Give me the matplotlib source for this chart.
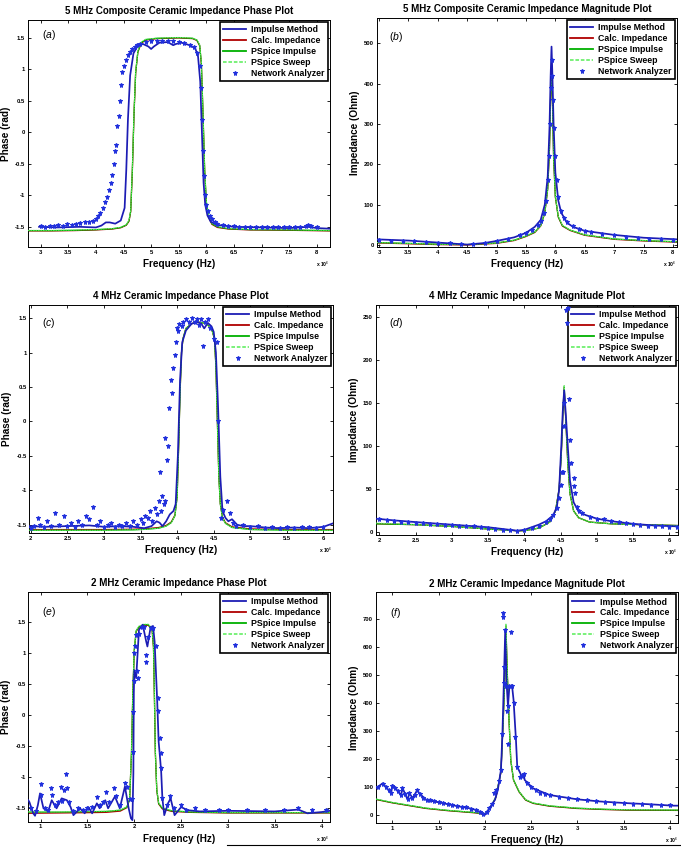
import matplotlib
matplotlib.use('Agg')
import matplotlib.pyplot as plt
from matplotlib.ticker import FuncFormatter, FixedLocator
from matplotlib.lines import Line2D

plt.rcParams['font.family'] = ['Liberation Sans', 'DejaVu Sans']
plt.rcParams['mathtext.fontset'] = 'custom'
plt.rcParams['mathtext.rm'] = 'Liberation Sans'
plt.rcParams['mathtext.it'] = 'Liberation Sans:italic'
plt.rcParams['mathtext.bf'] = 'Liberation Sans:bold'

# ---------------- DATA (frequency in MHz) ----------------
series_names = ["Impulse Method", "Calc. Impedance", "PSpice Impulse",
                "PSpice Sweep", "Network Analyzer"]

# (a) 5 MHz composite phase
a_mf = [2.77, 3.2, 3.6, 4.0, 4.3, 4.45, 4.55, 4.6, 4.63, 4.66, 4.69, 4.72, 4.76, 4.82, 4.9,
        5.1, 5.5, 5.75, 5.83, 5.88, 5.91, 5.94, 5.97, 6.0, 6.04, 6.1, 6.2, 6.4, 6.8, 7.5, 8.24]
a_psp = [-1.56, -1.56, -1.555, -1.545, -1.53, -1.51, -1.47, -1.40, -1.25, -0.60, 0.30, 0.95, 1.28,
         1.42, 1.47, 1.49, 1.50, 1.49, 1.46, 1.38, 1.10, 0.30, -0.60, -1.10, -1.33, -1.45, -1.50,
         -1.53, -1.545, -1.55, -1.56]
a_calc = [-1.565, -1.565, -1.56, -1.55, -1.535, -1.515, -1.475, -1.41, -1.26, -0.62, 0.28, 0.94,
          1.27, 1.41, 1.46, 1.485, 1.495, 1.485, 1.455, 1.37, 1.08, 0.28, -0.62, -1.12, -1.34,
          -1.46, -1.51, -1.535, -1.55, -1.555, -1.565]
a_swp = [-1.555, -1.555, -1.55, -1.54, -1.525, -1.505, -1.465, -1.39, -1.24, -0.58, 0.32, 0.96,
         1.29, 1.43, 1.475, 1.495, 1.505, 1.495, 1.465, 1.385, 1.11, 0.32, -0.58, -1.09, -1.32,
         -1.44, -1.495, -1.525, -1.54, -1.545, -1.555]
a_imp = [(2.97, -1.50), (3.3, -1.51), (3.7, -1.50), (4.0, -1.51), (4.1, -1.48), (4.18, -1.43),
         (4.25, -1.43), (4.35, -1.45), (4.45, -1.40), (4.52, -1.2), (4.55, -0.6), (4.58, 0.2),
         (4.62, 0.9), (4.68, 1.25), (4.75, 1.36), (4.85, 1.40), (4.95, 1.36), (5.0, 1.32),
         (5.05, 1.36), (5.15, 1.42), (5.3, 1.43), (5.4, 1.38), (5.45, 1.40), (5.55, 1.42),
         (5.7, 1.38), (5.8, 1.33), (5.85, 1.2), (5.89, 0.8), (5.92, 0.0), (5.95, -0.8),
         (5.98, -1.15), (6.02, -1.32), (6.08, -1.42), (6.2, -1.47), (6.5, -1.50), (7.0, -1.51),
         (7.5, -1.52), (7.85, -1.50), (8.0, -1.52), (8.24, -1.53)]
a_na = [(3.0, -1.49), (3.08, -1.50), (3.16, -1.48), (3.24, -1.49), (3.32, -1.47), (3.4, -1.48),
        (3.48, -1.46), (3.56, -1.47), (3.64, -1.45), (3.72, -1.44), (3.8, -1.43), (3.88, -1.42),
        (3.95, -1.40), (4.0, -1.38), (4.04, -1.33), (4.08, -1.28), (4.12, -1.20), (4.16, -1.10),
        (4.2, -1.02), (4.24, -0.92), (4.27, -0.80), (4.3, -0.68), (4.33, -0.50), (4.35, -0.30),
        (4.37, -0.20), (4.39, 0.10), (4.41, 0.25), (4.43, 0.50), (4.45, 0.75), (4.48, 0.95),
        (4.51, 1.05), (4.54, 1.15), (4.58, 1.22), (4.62, 1.28), (4.66, 1.32), (4.7, 1.35),
        (4.75, 1.38), (4.8, 1.40), (4.9, 1.43), (5.0, 1.44), (5.1, 1.45), (5.2, 1.45),
        (5.3, 1.45), (5.4, 1.44), (5.5, 1.43), (5.6, 1.41), (5.7, 1.38), (5.78, 1.35),
        (5.84, 1.25), (5.88, 1.05), (5.9, 0.70), (5.92, 0.20), (5.94, -0.30), (5.96, -0.70),
        (5.98, -1.00), (6.0, -1.15), (6.03, -1.25), (6.06, -1.33), (6.1, -1.38), (6.15, -1.42),
        (6.2, -1.45), (6.3, -1.47), (6.4, -1.48), (6.5, -1.49), (6.6, -1.50), (6.7, -1.50),
        (6.8, -1.50), (6.9, -1.51), (7.0, -1.50), (7.1, -1.51), (7.2, -1.50), (7.3, -1.51),
        (7.4, -1.50), (7.5, -1.50), (7.6, -1.51), (7.7, -1.50), (7.8, -1.49), (7.85, -1.47),
        (7.9, -1.49), (8.0, -1.50)]

# (b) 5 MHz composite magnitude
b_mf = [2.96, 3.5, 4.0, 4.5, 5.0, 5.3, 5.5, 5.65, 5.75, 5.82, 5.87, 5.9, 5.92, 5.935, 5.95,
        5.97, 6.0, 6.05, 6.12, 6.25, 6.5, 7.0, 7.5, 8.07]
b_psp = [6, 4, 2, 1, 5, 12, 22, 32, 48, 80, 140, 240, 370, 446, 370, 220, 120, 70, 48, 37, 25,
         15, 11, 8]
b_calc = [5, 3, 1, 0, 4, 11, 21, 31, 47, 79, 139, 238, 366, 440, 366, 218, 119, 69, 47, 36, 24,
          14, 10, 7]
b_swp = [6, 4, 2, 1, 5, 12, 22, 32, 48, 80, 140, 240, 372, 448, 372, 221, 121, 71, 49, 37, 25,
         15, 11, 8]
b_imp = [(2.96, 14), (3.5, 11), (4.0, 6), (4.5, 1), (4.8, 5), (5.0, 10), (5.3, 19), (5.5, 30),
         (5.65, 45), (5.75, 62), (5.82, 100), (5.87, 170), (5.9, 290), (5.92, 420), (5.935, 492),
         (5.95, 420), (5.97, 300), (6.0, 180), (6.05, 110), (6.1, 80), (6.2, 55), (6.3, 45),
         (6.5, 35), (7.0, 25), (7.5, 18), (8.07, 14)]
b_na = [(3.0, 12), (3.2, 11), (3.4, 10), (3.6, 9), (3.8, 7), (4.0, 6), (4.2, 4), (4.4, 2),
        (4.6, 2), (4.8, 5), (5.0, 9), (5.2, 15), (5.4, 24), (5.5, 30), (5.6, 38), (5.7, 50),
        (5.75, 60), (5.8, 80), (5.84, 110), (5.87, 160), (5.89, 220), (5.91, 300), (5.925, 390),
        (5.935, 460), (5.945, 420), (5.955, 360), (5.97, 290), (5.99, 220), (6.02, 160),
        (6.05, 120), (6.1, 85), (6.15, 68), (6.2, 57), (6.3, 47), (6.4, 40), (6.5, 35),
        (6.6, 31), (6.8, 27), (7.0, 24), (7.2, 21), (7.4, 18), (7.6, 16), (7.8, 14), (8.0, 12)]

# (c) 4 MHz phase
c_mf = [1.98, 2.5, 3.0, 3.4, 3.6, 3.75, 3.85, 3.92, 3.97, 4.0, 4.02, 4.04, 4.06, 4.08, 4.12,
        4.2, 4.3, 4.4, 4.47, 4.51, 4.53, 4.55, 4.57, 4.59, 4.62, 4.66, 4.75, 5.0, 5.5, 6.13]
c_psp = [-1.58, -1.58, -1.58, -1.575, -1.565, -1.55, -1.52, -1.47, -1.37, -1.1, -0.4, 0.4, 1.0,
         1.2, 1.35, 1.42, 1.44, 1.42, 1.35, 1.2, 0.8, 0.0, -0.8, -1.2, -1.4, -1.48, -1.54,
         -1.57, -1.58, -1.58]
c_calc = [-1.57, -1.57, -1.57, -1.565, -1.555, -1.54, -1.51, -1.46, -1.36, -1.09, -0.39, 0.41,
          1.0, 1.2, 1.35, 1.42, 1.44, 1.42, 1.35, 1.2, 0.8, 0.0, -0.79, -1.19, -1.39, -1.47,
          -1.53, -1.56, -1.57, -1.57]
c_swp = [-1.58, -1.58, -1.58, -1.575, -1.565, -1.55, -1.52, -1.47, -1.37, -1.1, -0.4, 0.4, 1.0,
         1.2, 1.35, 1.42, 1.44, 1.42, 1.35, 1.2, 0.8, 0.0, -0.8, -1.2, -1.4, -1.48, -1.54,
         -1.57, -1.58, -1.58]
c_imp = [(1.98, -1.52), (2.2, -1.53), (2.5, -1.52), (2.8, -1.51), (3.0, -1.53), (3.2, -1.52),
         (3.4, -1.53), (3.55, -1.55), (3.65, -1.52), (3.72, -1.45), (3.76, -1.47), (3.8, -1.52),
         (3.85, -1.45), (3.9, -1.35), (3.95, -1.30), (3.98, -1.20), (4.01, -0.5), (4.04, 0.6),
         (4.07, 1.15), (4.12, 1.32), (4.2, 1.42), (4.28, 1.44), (4.33, 1.42), (4.37, 1.35),
         (4.42, 1.43), (4.47, 1.38), (4.5, 1.30), (4.53, 1.0), (4.56, 0.2), (4.59, -0.8),
         (4.62, -1.3), (4.66, -1.40), (4.7, -1.45), (4.75, -1.42), (4.82, -1.50), (4.9, -1.52),
         (5.0, -1.52), (5.2, -1.54), (5.4, -1.55), (5.6, -1.54), (5.8, -1.55), (6.0, -1.53),
         (6.13, -1.48)]
c_na = [(2.0, -1.55), (2.05, -1.52), (2.1, -1.40), (2.12, -1.50), (2.18, -1.53), (2.22, -1.45),
        (2.28, -1.52), (2.33, -1.33), (2.38, -1.50), (2.45, -1.37), (2.5, -1.52), (2.55, -1.48),
        (2.6, -1.53), (2.65, -1.45), (2.7, -1.50), (2.75, -1.38), (2.8, -1.42), (2.85, -1.24),
        (2.9, -1.50), (2.95, -1.45), (3.0, -1.53), (3.05, -1.50), (3.1, -1.48), (3.15, -1.53),
        (3.2, -1.50), (3.25, -1.52), (3.3, -1.47), (3.35, -1.52), (3.4, -1.45), (3.45, -1.50),
        (3.5, -1.42), (3.53, -1.48), (3.56, -1.38), (3.6, -1.40), (3.63, -1.30), (3.66, -1.45),
        (3.7, -1.25), (3.72, -1.35), (3.75, -1.15), (3.78, -1.30), (3.8, -1.08), (3.82, -1.20),
        (3.84, -1.15), (3.77, -0.73), (3.834, -0.24), (3.857, -0.56), (3.88, -0.36),
        (3.89, 0.19), (3.91, 0.60), (3.925, 0.41), (3.94, 0.77), (3.97, 0.97), (3.985, 1.16),
        (4.0, 1.35), (4.015, 1.31), (4.03, 1.42), (4.06, 1.38), (4.085, 1.45), (4.12, 1.48),
        (4.16, 1.44), (4.2, 1.50), (4.24, 1.45), (4.27, 1.48), (4.3, 1.40), (4.33, 1.49),
        (4.36, 1.10), (4.38, 1.45), (4.42, 1.48), (4.45, 1.35), (4.5, 1.20), (4.54, 1.16),
        (4.56, 0.0), (4.6, -1.40), (4.63, -1.28), (4.68, -1.16), (4.72, -1.33), (4.76, -1.48),
        (4.8, -1.52), (4.9, -1.50), (5.0, -1.53), (5.1, -1.52), (5.2, -1.55), (5.3, -1.53),
        (5.4, -1.55), (5.5, -1.54), (5.6, -1.55), (5.7, -1.53), (5.8, -1.54), (5.9, -1.55),
        (6.0, -1.53)]

# (d) 4 MHz magnitude
d_mf = [1.95, 2.5, 3.0, 3.5, 3.9, 4.0, 4.2, 4.35, 4.43, 4.48, 4.51, 4.53, 4.55, 4.57, 4.6,
        4.63, 4.68, 4.75, 4.9, 5.2, 5.6, 6.12]
d_psp = [10, 9, 7, 4, 2, 2, 5, 12, 25, 50, 90, 135, 170, 135, 80, 45, 25, 17, 12, 10, 9, 8]
d_calc = [10, 9, 7, 4, 2, 2, 5, 12, 25, 50, 90, 134, 168, 134, 80, 45, 25, 17, 12, 10, 9, 8]
d_swp = [11, 9, 7, 4, 2, 2, 5, 12, 25, 50, 90, 135, 171, 135, 80, 45, 25, 17, 12, 10, 9, 8]
d_imp = [(1.95, 16), (2.2, 14), (2.5, 12), (3.0, 9), (3.5, 6), (3.9, 2), (4.0, 3), (4.1, 6),
         (4.2, 9), (4.3, 13), (4.4, 20), (4.45, 30), (4.48, 50), (4.51, 100), (4.53, 140),
         (4.55, 165), (4.57, 140), (4.6, 100), (4.63, 60), (4.68, 35), (4.75, 24), (4.85, 20),
         (5.0, 16), (5.2, 13), (5.5, 10), (5.8, 8), (6.12, 7)]
d_na = [(2.0, 15), (2.1, 14), (2.2, 13), (2.3, 12), (2.4, 12), (2.5, 11), (2.6, 11), (2.7, 10),
        (2.8, 10), (2.9, 9), (3.0, 9), (3.1, 8), (3.2, 8), (3.3, 7), (3.4, 6), (3.5, 5),
        (3.6, 4), (3.7, 3), (3.8, 3), (3.9, 2), (4.0, 3), (4.1, 5), (4.2, 8), (4.3, 12),
        (4.35, 15), (4.4, 20), (4.45, 28), (4.48, 40), (4.5, 55), (4.52, 70), (4.53, 70),
        (4.55, 123), (4.55, 150), (4.575, 258), (4.6, 260), (4.585, 243), (4.61, 155),
        (4.63, 107), (4.65, 81), (4.68, 63), (4.685, 54), (4.7, 46), (4.72, 30), (4.75, 25),
        (4.8, 22), (4.9, 18), (5.0, 16), (5.1, 15), (5.2, 13), (5.3, 12), (5.4, 11), (5.5, 10),
        (5.6, 9), (5.7, 8), (5.8, 7), (5.9, 7), (6.0, 6), (6.1, 6)]

# (e) 2 MHz phase
e_mf = [0.868, 1.2, 1.5, 1.7, 1.85, 1.92, 1.95, 1.97, 1.985, 2.0, 2.02, 2.05, 2.1, 2.15, 2.19,
        2.205, 2.215, 2.225, 2.24, 2.26, 2.3, 2.4, 2.6, 3.0, 3.5, 4.09]
e_psp = [-1.56, -1.56, -1.555, -1.55, -1.53, -1.48, -1.35, -0.6, 0.4, 1.05, 1.35, 1.42, 1.45,
         1.45, 1.38, 1.1, 0.3, -0.6, -1.2, -1.42, -1.5, -1.54, -1.56, -1.57, -1.57, -1.57]
e_calc = [-1.58, -1.575, -1.57, -1.565, -1.545, -1.49, -1.36, -0.62, 0.38, 1.04, 1.34, 1.41,
          1.44, 1.44, 1.37, 1.08, 0.28, -0.62, -1.21, -1.43, -1.51, -1.55, -1.565, -1.575,
          -1.575, -1.575]
e_swp = [-1.555, -1.555, -1.55, -1.545, -1.525, -1.475, -1.34, -0.58, 0.42, 1.06, 1.36, 1.43,
         1.46, 1.46, 1.39, 1.12, 0.32, -0.58, -1.19, -1.41, -1.49, -1.535, -1.555, -1.565,
         -1.565, -1.565]
e_imp = [(0.868, -1.37), (0.88, -1.40), (0.92, -1.58), (0.94, -1.62), (0.97, -1.45),
         (0.993, -1.26), (1.03, -1.50), (1.08, -1.55), (1.118, -1.37), (1.17, -1.50),
         (1.224, -1.34), (1.28, -1.37), (1.32, -1.48), (1.35, -1.61), (1.42, -1.50),
         (1.47, -1.58), (1.51, -1.48), (1.55, -1.58), (1.6, -1.42), (1.63, -1.50), (1.69, -1.37),
         (1.72, -1.50), (1.793, -1.31), (1.845, -1.50), (1.9, -1.15), (1.94, -1.50),
         (1.964, -1.66), (1.98, -1.69), (1.99, -0.94), (1.995, 0.35), (2.0, 0.72), (2.02, 0.59),
         (2.05, 1.37), (2.09, 1.45), (2.127, 1.18), (2.14, 1.10), (2.174, 1.41), (2.2, 1.43),
         (2.217, 1.18), (2.245, 0.21), (2.26, -0.43), (2.27, -0.60), (2.287, -0.91),
         (2.30, -1.34), (2.32, -1.61), (2.36, -1.42), (2.388, -1.34), (2.43, -1.61),
         (2.5, -1.48), (2.57, -1.53), (2.7, -1.55), (3.0, -1.54), (3.5, -1.55), (3.75, -1.52),
         (3.85, -1.58), (4.0, -1.56), (4.09, -1.54)]
e_na = [(0.9, -1.50), (0.95, -1.55), (1.0, -1.11), (1.0, -1.28), (1.05, -1.50), (1.08, -1.52),
        (1.11, -1.17), (1.12, -1.28), (1.15, -1.45), (1.19, -1.40), (1.22, -1.16), (1.23, -1.38),
        (1.25, -1.20), (1.27, -0.95), (1.28, -1.17), (1.3, -1.40), (1.35, -1.55), (1.4, -1.50),
        (1.45, -1.52), (1.5, -1.50), (1.55, -1.48), (1.6, -1.32), (1.63, -1.45), (1.67, -1.40),
        (1.7, -1.23), (1.73, -1.40), (1.78, -1.17), (1.8, -1.30), (1.85, -1.45), (1.9, -1.09),
        (1.92, -1.15), (1.95, -1.35), (1.975, -1.35), (1.985, -0.60), (1.99, 0.05),
        (1.995, 0.55), (2.0, 1.0), (2.01, 1.1), (2.02, 1.28), (2.03, 0.70), (2.04, 0.59),
        (2.05, 1.30), (2.08, 1.42), (2.1, 1.42), (2.127, 0.96), (2.127, 0.85), (2.15, 1.25),
        (2.18, 1.40), (2.2, 1.40), (2.23, 1.10), (2.255, 0.27), (2.255, 0.06), (2.27, -0.37),
        (2.28, -0.61), (2.29, -0.85), (2.3, -1.33), (2.35, -1.45), (2.38, -1.30), (2.42, -1.50),
        (2.5, -1.45), (2.55, -1.52), (2.65, -1.50), (2.75, -1.53), (2.9, -1.52), (3.0, -1.53),
        (3.2, -1.52), (3.4, -1.53), (3.6, -1.52), (3.75, -1.50), (3.9, -1.53), (4.05, -1.53)]

# (f) 2 MHz magnitude
f_mf = [0.824, 1.0, 1.364, 1.6, 1.904, 2.0, 2.06, 2.12, 2.174, 2.2, 2.22, 2.228, 2.24, 2.26,
        2.28, 2.31, 2.37, 2.44, 2.523, 2.7, 2.99, 3.3, 3.53, 4.09]
f_psp = [56, 44, 24, 16, 8, 2, 25, 65, 154, 351, 530, 679, 530, 350, 196, 125, 83, 54, 42, 32,
         24, 20, 18, 17]
f_calc = [55, 43, 23, 15, 7, 1, 24, 64, 152, 348, 526, 672, 526, 347, 194, 124, 82, 53, 41, 31,
          23, 19, 17, 16]
f_swp = [57, 45, 25, 17, 9, 3, 26, 66, 155, 353, 533, 682, 533, 352, 197, 126, 84, 55, 43, 33,
         25, 21, 19, 18]
f_imp = [(0.824, 95), (0.896, 113), (0.986, 78), (1.004, 107), (1.094, 71), (1.112, 95),
         (1.166, 54), (1.184, 78), (1.22, 60), (1.27, 89), (1.29, 78), (1.364, 54), (1.45, 48),
         (1.544, 42), (1.63, 36), (1.724, 30), (1.83, 24), (1.9, 18), (1.976, 6), (2.0, 0),
         (2.05, 24), (2.11, 54), (2.14, 89), (2.174, 161), (2.19, 292), (2.21, 530), (2.22, 660),
         (2.235, 470), (2.25, 387), (2.265, 458), (2.293, 464), (2.31, 411), (2.336, 268),
         (2.35, 172), (2.40, 137), (2.42, 145), (2.43, 125), (2.52, 95), (2.70, 71), (2.99, 56),
         (3.24, 48), (3.53, 42), (3.78, 38), (4.03, 33), (4.09, 33)]
f_na = [(0.85, 98), (0.9, 110), (0.93, 100), (0.96, 88), (0.99, 77), (1.0, 105), (1.03, 95),
        (1.06, 85), (1.09, 72), (1.11, 95), (1.14, 75), (1.17, 56), (1.185, 78), (1.21, 62),
        (1.24, 70), (1.27, 89), (1.3, 75), (1.33, 62), (1.37, 55), (1.41, 52), (1.45, 48),
        (1.5, 45), (1.55, 42), (1.6, 40), (1.65, 35), (1.7, 33), (1.75, 30), (1.8, 28),
        (1.85, 22), (1.9, 16), (1.95, 10), (1.98, 4), (2.02, 10), (2.05, 25), (2.08, 40),
        (2.1, 80), (2.12, 90), (2.15, 120), (2.17, 160), (2.19, 290), (2.199, 722), (2.2, 708),
        (2.205, 470), (2.21, 530), (2.22, 660), (2.23, 460), (2.24, 370), (2.245, 255),
        (2.25, 390), (2.26, 460), (2.28, 652), (2.29, 460), (2.31, 400), (2.33, 280),
        (2.35, 170), (2.38, 135), (2.40, 140), (2.42, 145), (2.45, 115), (2.5, 98), (2.55, 88),
        (2.6, 80), (2.65, 74), (2.7, 70), (2.8, 65), (2.9, 60), (3.0, 56), (3.1, 53), (3.2, 49),
        (3.3, 46), (3.4, 44), (3.5, 42), (3.6, 40), (3.7, 38), (3.8, 37), (3.9, 35), (4.0, 34)]

titles = ["5 MHz Composite Ceramic Impedance Phase Plot",
          "5 MHz Composite Ceramic Impedance Magnitude Plot",
          "4 MHz Ceramic Impedance Phase Plot",
          "4 MHz Ceramic Impedance Magnitude Plot",
          "2 MHz Ceramic Impedance Phase Plot",
          "2 MHz Ceramic Impedance Magnitude Plot"]
ylabels = ["Phase (rad)", "Impedance (Ohm)"] * 3
letters = ["a", "b", "c", "d", "e", "f"]
xlims = [(2.77, 8.24), (2.96, 8.07), (1.98, 6.13), (1.95, 6.12), (0.868, 4.09), (0.824, 4.09)]
ylims = [(-1.82, 1.78), (-5, 563), (-1.62, 1.69), (-3, 264), (-1.715, 1.98), (-30, 795)]
xticks = [[3, 3.5, 4, 4.5, 5, 5.5, 6, 6.5, 7, 7.5, 8]] * 2 + \
         [[2, 2.5, 3, 3.5, 4, 4.5, 5, 5.5, 6]] * 2 + \
         [[1, 1.5, 2, 2.5, 3, 3.5, 4]] * 2
phase_ticks = [-1.5, -1, -0.5, 0, 0.5, 1, 1.5]
yticks = [phase_ticks, [0, 100, 200, 300, 400, 500],
          phase_ticks, [0, 50, 100, 150, 200, 250],
          phase_ticks, [0, 100, 200, 300, 400, 500, 600, 700]]

panels = [
    (a_mf, a_calc, a_psp, a_swp, a_imp, a_na),
    (b_mf, b_calc, b_psp, b_swp, b_imp, b_na),
    (c_mf, c_calc, c_psp, c_swp, c_imp, c_na),
    (d_mf, d_calc, d_psp, d_swp, d_imp, d_na),
    (e_mf, e_calc, e_psp, e_swp, e_imp, e_na),
    (f_mf, f_calc, f_psp, f_swp, f_imp, f_na),
]

# ---------------- LAYOUT ----------------
W, H = 681, 847
boxes_px = [(28, 20, 330, 247), (376.7, 18, 677, 247),
            (29.3, 305, 333, 533), (375.7, 305, 678, 535),
            (28.3, 591.7, 330, 821.7), (376, 592.3, 678.3, 823.3)]
letter_pos = [(0.045, 0.935), (0.04, 0.918), (0.041, 0.92), (0.045, 0.92), (0.044, 0.913),
              (0.046, 0.909)]

c_imp_col = '#1c1cb4'
c_na_col = '#2030dd'
c_calc_col = '#b00000'
c_psp_col = '#00b000'
c_swp_col = '#70f070'

fig = plt.figure(figsize=(W / 100, H / 100), dpi=100)

hz = lambda seq: [v * 1e6 for v in seq]
fmt_g = FuncFormatter(lambda v, p: f"{v:g}")
fmt_mhz = FuncFormatter(lambda v, p: f"{v / 1e6:g}")

for i, (mf, calc, psp, swp, imp, na) in enumerate(panels):
    x0, y0, x1, y1 = boxes_px[i]
    ax = fig.add_axes([x0 / W, 1 - y1 / H, (x1 - x0) / W, (y1 - y0) / H])
    imp_f, imp_v = zip(*imp)
    na_f, na_v = zip(*na)
    l_calc, = ax.plot(hz(mf), calc, color=c_calc_col, lw=0.9, zorder=2)
    l_psp, = ax.plot(hz(mf), psp, color=c_psp_col, lw=0.9, zorder=3)
    l_swp, = ax.plot(hz(mf), swp, color=c_swp_col, lw=0.6, ls=(0, (2, 1)), zorder=4)
    l_imp, = ax.plot(hz(imp_f), imp_v, color=c_imp_col, lw=1.25, zorder=5)
    l_na, = ax.plot(hz(na_f), na_v, ls='none', marker='*', ms=3.6, mew=0.7,
                    color=c_na_col, zorder=6)
    ax.set_xlim(xlims[i][0] * 1e6, xlims[i][1] * 1e6)
    ax.set_ylim(*ylims[i])
    ax.xaxis.set_major_locator(FixedLocator(hz(xticks[i])))
    ax.yaxis.set_major_locator(FixedLocator(yticks[i]))
    ax.xaxis.set_major_formatter(fmt_mhz)
    ax.yaxis.set_major_formatter(fmt_g)
    ax.tick_params(direction='in', length=2.5, width=0.6, top=True, right=True,
                   labelsize=4.2, pad=2)
    for lab in ax.get_xticklabels() + ax.get_yticklabels():
        lab.set_fontweight('bold')
    for sp in ax.spines.values():
        sp.set_linewidth(0.7)
    ax.set_title(titles[i], fontsize=7.0, fontweight='bold', pad=4)
    ax.set_xlabel("Frequency (Hz)", fontsize=7.2, fontweight='bold', labelpad=3)
    ax.set_ylabel(ylabels[i], fontsize=7.2, fontweight='bold', labelpad=3)
    ax.text(1.0, -0.055, r"x 10$^{6}$", transform=ax.transAxes, ha='right', va='top',
            fontsize=3.6, fontweight='bold')
    lx, ly = letter_pos[i]
    ax.text(lx, ly, r"$\mathregular{(}\mathit{" + letters[i] + r"}\mathregular{)}$",
            transform=ax.transAxes, fontsize=7.5, ha='left', va='center')
    leg = ax.legend([l_imp, l_calc, l_psp, l_swp, l_na], series_names, loc='upper right',
                    frameon=True, fancybox=False, framealpha=1,
                    edgecolor='black', borderaxespad=0.25, handlelength=2.6,
                    handletextpad=0.6, labelspacing=0.22, borderpad=0.35,
                    prop={'weight': 'bold', 'size': 6.3})
    leg.get_frame().set_linewidth(1.2)
    for h in leg.get_lines()[:4]:
        h.set_linewidth(1.3)

fig.add_artist(Line2D([227 / W, 1.0], [1 - 845 / H, 1 - 845 / H], color='black', lw=0.8))

fig.savefig("out.png", dpi=100)
